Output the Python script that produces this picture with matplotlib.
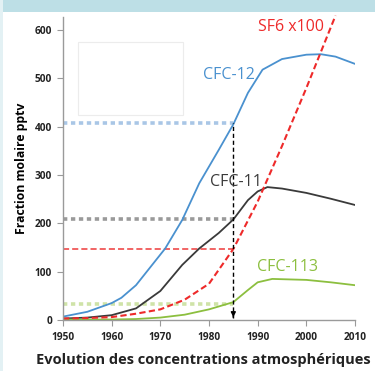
import matplotlib
matplotlib.use("Agg")
import matplotlib.pyplot as plt
from matplotlib.patches import Rectangle

# ---- data ----
years12 = [1950, 1955, 1960, 1962, 1965, 1968, 1971, 1974.5, 1978, 1982, 1985, 1988, 1991, 1995, 2000, 2003, 2006, 2010]
cfc12 = [7, 17, 35, 46, 72, 110, 148, 207, 283, 352, 405, 470, 518, 540, 549, 550, 545, 530]

years11 = [1950, 1955, 1960, 1965, 1970, 1974.5, 1978, 1982, 1985, 1988, 1990, 1992, 1995, 2000, 2005, 2010]
cfc11 = [3, 5, 10, 24, 60, 114, 148, 180, 208, 248, 266, 275, 272, 263, 251, 238]

years113 = [1950, 1960, 1965, 1970, 1975, 1980, 1985, 1988, 1990, 1993, 2000, 2005, 2010]
cfc113 = [1, 1, 2, 5, 11, 22, 37, 62, 78, 85, 83, 78, 72]

yearsSF6 = [1950, 1955, 1960, 1965, 1970, 1975, 1980, 1985, 1990, 1995, 2000, 2003, 2006]
sf6x100 = [3, 4, 6, 13, 22, 42, 75, 147, 245, 360, 480, 555, 630]

ref_year = 1985
ref_levels = [407, 209, 147, 33]
ref_colors = ["#a9c6e6", "#9a9a9a", "#ee3a3a", "#cfe3a8"]

xticks = [1950, 1960, 1970, 1980, 1990, 2000, 2010]
yticks = [0, 100, 200, 300, 400, 500, 600]

c_blue = "#4a91cf"
c_black = "#3a3a3a"
c_green = "#8cbf3f"
c_red = "#ee2a2a"

fig = plt.figure(figsize=(3.75, 3.71), dpi=100)
fig.patch.set_facecolor("white")
# top band
fig.patches.append(Rectangle((0, 1 - 12/371), 1, 12/371, transform=fig.transFigure,
                             facecolor="#bddfe6", edgecolor="none", zorder=0))
fig.patches.append(Rectangle((0, 0), 3/375, 1, transform=fig.transFigure,
                             facecolor="#e3f1f4", edgecolor="none", zorder=0))
# faint empty box
fig.patches.append(Rectangle((78/375, 1 - 115/371), 105/375, 73/371, transform=fig.transFigure,
                             facecolor="white", edgecolor="#ececec", lw=0.8, zorder=0))

ax = fig.add_axes([63/375, 51/371, 292/375, 303/371])
ax.patch.set_alpha(0)

# reference lines
ax.hlines(ref_levels[0], 1950, ref_year, colors=ref_colors[0], lw=2.6, linestyles=(0, (1.2, 1.0)))
ax.hlines(ref_levels[1], 1950, ref_year, colors=ref_colors[1], lw=2.6, linestyles=(0, (1.2, 1.0)))
ax.hlines(ref_levels[2], 1950, ref_year, colors=ref_colors[2], lw=1.1, linestyles=(0, (4, 2)))
ax.hlines(ref_levels[3], 1950, ref_year, colors=ref_colors[3], lw=2.6, linestyles=(0, (1.2, 1.0)))

# curves
ax.plot(years12, cfc12, color=c_blue, lw=1.3)
ax.plot(years11, cfc11, color=c_black, lw=1.3)
ax.plot(years113, cfc113, color=c_green, lw=1.3)
ax.plot(yearsSF6, sf6x100, color=c_red, lw=1.5, linestyle=(0, (3, 1.6)), clip_on=False)

# vertical arrow
ax.vlines(ref_year, 4, ref_levels[0], colors="black", lw=1.0, linestyles=(0, (3, 2)))
ax.annotate("", xy=(ref_year, 0), xytext=(ref_year, 12),
            arrowprops=dict(arrowstyle="-|>", color="black", lw=1.0, mutation_scale=7))

ax.set_xlim(1950, 2010)
ax.set_ylim(0, 627)
ax.set_xticks(xticks)
ax.set_yticks(yticks)
fam = ["Open Sans", "DejaVu Sans"]
ax.set_xticklabels([str(t) for t in xticks], fontsize=7.3, fontweight="bold", family=fam, color="#222222")
ax.set_yticklabels([str(t) for t in yticks], fontsize=7.3, fontweight="bold", family=fam, color="#222222")
for s in ["top", "right"]:
    ax.spines[s].set_visible(False)
for s in ["left", "bottom"]:
    ax.spines[s].set_color("#9a9a9a")
    ax.spines[s].set_linewidth(1.0)
ax.tick_params(axis="both", colors="#9a9a9a", length=4, width=0.8, labelcolor="#222222")
ax.tick_params(axis="x", pad=5)
ax.tick_params(axis="y", pad=4)

ax.set_ylabel("Fraction molaire pptv", fontsize=8.8, fontweight="bold", family=fam, labelpad=5)
fig.text(203/375, 1 - 360/371, "Evolution des concentrations atmosphériques", ha="center", va="center",
         fontsize=10.5, fontweight="bold", family=fam, color="#222222")

# series labels
ax.text(1978.8, 507, "CFC-12", color=c_blue, fontsize=11.5, family=fam, va="center", ha="left")
ax.text(1980.2, 286, "CFC-11", color=c_black, fontsize=11.5, family=fam, va="center", ha="left")
ax.text(1989.9, 110, "CFC-113", color=c_green, fontsize=11.5, family=fam, va="center", ha="left")
ax.text(1990.1, 606, "SF6 x100", color=c_red, fontsize=11.5, family=fam, va="center", ha="left")

fig.savefig("out.png", dpi=100)
